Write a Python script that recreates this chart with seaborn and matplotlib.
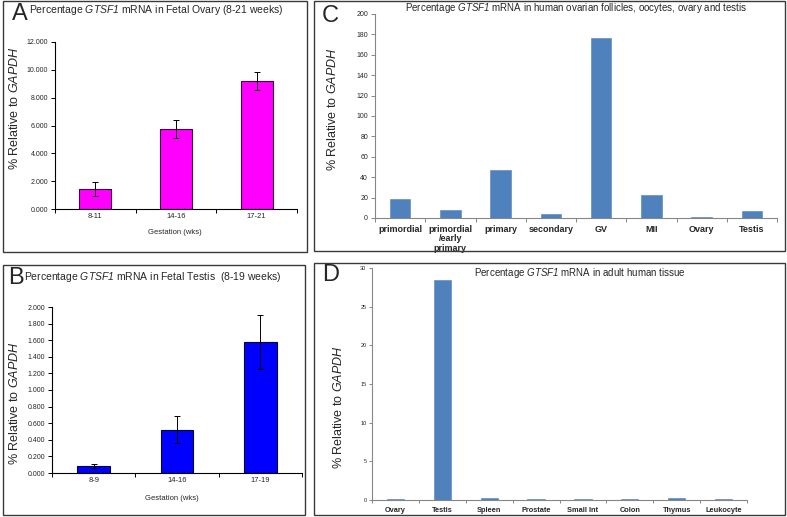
import matplotlib
matplotlib.use("Agg")
import numpy as np
import matplotlib.pyplot as plt
from matplotlib.patches import Rectangle
import seaborn as sns

# -----------------------------
# Data
# -----------------------------
ovary_stage = ["8-11", "14-16", "17-21"]
ovary_pct = [1.43, 5.75, 9.20]
ovary_err = [0.50, 0.62, 0.67]

testis_stage = ["8-9", "14-16", "17-19"]
testis_pct = [0.088, 0.522, 1.578]
testis_err = [0.025, 0.165, 0.33]

follicle_cat = ["primordial", "primordial\n/early\nprimary", "primary", "secondary",
                "GV", "MII", "Ovary", "Testis"]
follicle_pct = [19.0, 7.6, 46.6, 3.8, 176.5, 22.4, 1.2, 7.1]

tissue_cat = ["Ovary", "Testis", "Spleen", "Prostate", "Small Int", "Colon",
              "Thymus", "Leukocyte"]
tissue_pct = [0.13, 28.4, 0.30, 0.12, 0.12, 0.12, 0.22, 0.12]

# -----------------------------
# Style
# -----------------------------
sns.set_style("ticks")
plt.rcParams["font.family"] = ["Liberation Sans", "DejaVu Sans"]
# math parts are only the gene names, which are set in italic
plt.rcParams["mathtext.fontset"] = "custom"
plt.rcParams["mathtext.rm"] = "Liberation Sans:italic"
plt.rcParams["mathtext.it"] = "Liberation Sans:italic"

W, H = 787, 517
fig = plt.figure(figsize=(W / 100, H / 100), dpi=100)


def px_axes(l, t, r, b):
    return fig.add_axes([l / W, 1 - b / H, (r - l) / W, (b - t) / H])


def box(l, t, r, b):
    fig.add_artist(Rectangle((l / W, 1 - b / H), (r - l) / W, (b - t) / H,
                             transform=fig.transFigure, fill=False,
                             edgecolor="#3a3a3a", lw=1.0))


def ftext(x, y, s, **kw):
    fig.text(x / W, 1 - y / H, s, **kw)


def excel_axes(ax, n, axis_color, tick_len=3, pad=3):
    ax.set_xlim(-0.5, n - 0.5)
    ax.set_xticks(np.arange(-0.5, n), minor=True)
    ax.tick_params(axis="x", which="major", length=0, pad=pad)
    ax.tick_params(axis="x", which="minor", length=tick_len, width=0.7,
                   color=axis_color, direction="out")
    ax.tick_params(axis="y", length=tick_len, width=0.7, color=axis_color,
                   direction="out", pad=2)
    for s in ["top", "right"]:
        ax.spines[s].set_visible(False)
    for s in ["left", "bottom"]:
        ax.spines[s].set_color(axis_color)
        ax.spines[s].set_linewidth(0.8)
    ax.set_xlabel("")
    ax.set_ylabel("")
    ax.set_facecolor("white")


def add_err(ax, err):
    xs = [p.get_x() + p.get_width() / 2 for p in ax.patches]
    ys = [p.get_height() for p in ax.patches]
    ax.errorbar(xs, ys, yerr=err, fmt="none", ecolor="black",
                elinewidth=0.7, capsize=2.5, capthick=0.7, zorder=5)


ylab = r"% Relative to $GAPDH$"

# -----------------------------
# Panel A
# -----------------------------
box(3, 1, 307, 252)
ax = px_axes(55, 42, 297, 209)
sns.barplot(x=ovary_stage, y=ovary_pct, color="#FF00FF", saturation=1,
            edgecolor="#3a003a", linewidth=0.8, width=0.4, errorbar=None, ax=ax)
add_err(ax, ovary_err)
excel_axes(ax, 3, "black")
ax.set_ylim(0, 12)
ax.set_yticks(np.arange(0, 12.1, 2))
ax.set_yticklabels([f"{v:.3f}" for v in np.arange(0, 12.1, 2)], fontsize=5)
ax.set_xticklabels(ovary_stage, fontsize=5.5)
ftext(12, 14, "A", fontsize=17, ha="left", va="center")
ftext(156, 10, r"Percentage $GTSF1$ mRNA in Fetal Ovary (8-21 weeks)",
      fontsize=7.5, ha="center", va="center")
ftext(175, 233, "Gestation (wks)", fontsize=5.5, ha="center", va="center")
ftext(15, 108, ylab, fontsize=9, rotation=90, ha="center", va="center")

# -----------------------------
# Panel B
# -----------------------------
box(3, 265, 305, 515)
ax = px_axes(52, 307, 302, 473)
sns.barplot(x=testis_stage, y=testis_pct, color="#0000FF", saturation=1,
            edgecolor="#000033", linewidth=0.8, width=0.39, errorbar=None, ax=ax)
add_err(ax, testis_err)
excel_axes(ax, 3, "black")
ax.set_ylim(0, 2)
ax.set_yticks(np.arange(0, 2.01, 0.2))
ax.set_yticklabels([f"{v:.3f}" for v in np.arange(0, 2.01, 0.2)], fontsize=5)
ax.set_xticklabels(testis_stage, fontsize=5.5)
ftext(8, 278, "B", fontsize=17, ha="left", va="center")
ftext(153, 277, r"Percentage $GTSF1$ mRNA in Fetal Testis  (8-19 weeks)",
      fontsize=7.5, ha="center", va="center")
ftext(172, 498, "Gestation (wks)", fontsize=5.5, ha="center", va="center")
ftext(15, 403, ylab, fontsize=9, rotation=90, ha="center", va="center")

# -----------------------------
# Panel C
# -----------------------------
box(314, 1, 785, 251)
ax = px_axes(375, 14, 777, 218)
sns.barplot(x=follicle_cat, y=follicle_pct, color="#4F81BD", saturation=1,
            edgecolor="#4F81BD", linewidth=0.4, width=0.41, errorbar=None, ax=ax)
excel_axes(ax, 8, "#868686", pad=5)
ax.set_ylim(0, 200)
ax.set_yticks(np.arange(0, 201, 20))
ax.tick_params(axis="y", labelsize=5)
ax.set_xticklabels(follicle_cat, fontsize=6.5, fontweight="bold", linespacing=1.05,
                   va="top")
ftext(322, 16, "C", fontsize=17, ha="left", va="center")
ftext(576, 8, r"Percentage $GTSF1$ mRNA in human ovarian follicles, oocytes, ovary and testis",
      fontsize=7, ha="center", va="center")
ftext(333, 109, ylab, fontsize=9, rotation=90, ha="center", va="center")

# -----------------------------
# Panel D
# -----------------------------
box(314, 263, 785, 515)
ax = px_axes(372, 268, 747, 500)
sns.barplot(x=tissue_cat, y=tissue_pct, color="#4F81BD", saturation=1,
            edgecolor="#4F81BD", linewidth=0.4, width=0.37, errorbar=None, ax=ax)
excel_axes(ax, 8, "#868686", tick_len=2, pad=5)
ax.set_ylim(0, 30)
ax.set_yticks(np.arange(0, 31, 5))
ax.tick_params(axis="y", labelsize=4)
ax.set_xticklabels(tissue_cat, fontsize=5.3, fontweight="bold")
ftext(322, 275, "D", fontsize=17, ha="left", va="center")
ftext(580, 273, r"Percentage $GTSF1$ mRNA in adult human tissue",
      fontsize=7, ha="center", va="center")
ftext(338, 407, ylab, fontsize=9, rotation=90, ha="center", va="center")

fig.savefig("out.png", dpi=100, facecolor="white")
